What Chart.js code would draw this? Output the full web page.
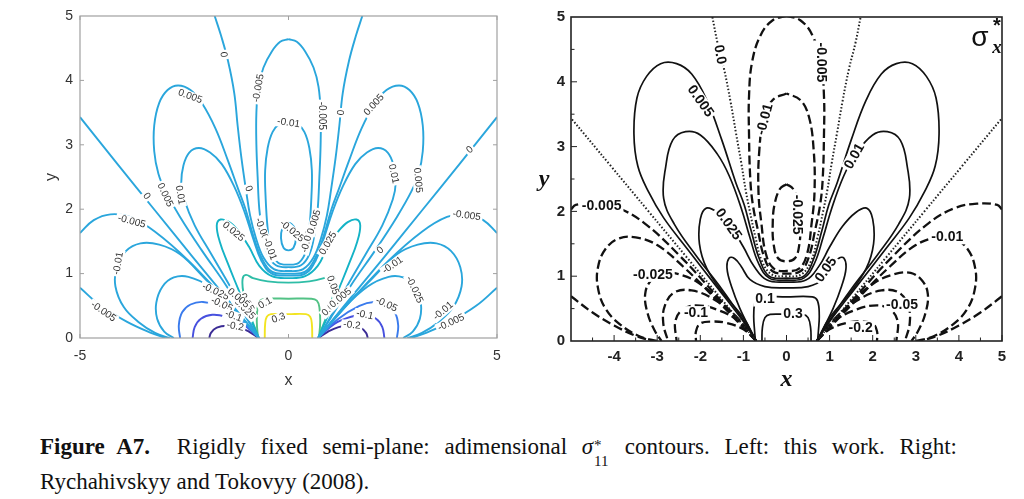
<!DOCTYPE html>
<html>
<head>
<meta charset="utf-8">
<script src="https://cdn.jsdelivr.net/npm/chart.js@4.4.1/dist/chart.umd.min.js"></script>
<style>
  body { margin: 0; background: #fff; width: 1024px; height: 499px; overflow: hidden; position: relative; }
  #leftBox { position: absolute; left: 0; top: 0; width: 520px; height: 400px; }
  #rightBox { position: absolute; left: 520px; top: 0; width: 504px; height: 400px; }
  .cap { position: absolute; left: 40px; font-family: "Liberation Serif", serif; font-size: 23px; line-height: 28px; color: #111; white-space: nowrap; }
  #cap1 { top: 433px; width: 917px; text-align: justify; text-align-last: justify; }
  #cap2 { top: 468px; }
  .ss { display: inline-block; position: relative; width: 17px; height: 10px; }
  .ss .up { position: absolute; left: 1px; top: -13px; font-size: 15px; }
  .ss .dn { position: absolute; left: 1px; top: 3px; font-size: 15px; }
</style>
</head>
<body>
<div id="leftBox"><canvas id="leftChart" width="520" height="400"></canvas></div>
<div id="rightBox"><canvas id="rightChart" width="504" height="400"></canvas></div>
<div class="cap" id="cap1"><b>Figure&ensp;A7.</b><span style="display:inline-block;width:12px"></span> Rigidly fixed semi-plane: adimensional <i>σ</i><span class="ss"><span class="up">*</span><span class="dn">11</span></span> contours. Left: this work. Right:</div>
<div class="cap" id="cap2">Rychahivskyy and Tokovyy (2008).</div>
<script>
// contour halves read for x >= 0; the pictures are symmetric about x = 0

// ---- left panel (this work) ----
const lpZeroDiag = [[0.71, 0], [1.5, 0.63], [2.3, 1.26], [3.2, 1.98], [4.1, 2.7], [5, 3.43]];
const lpZeroCenter = [[0, 1.04], [0.35, 1.07], [0.6, 1.25], [0.78, 1.55], [0.92, 1.9], [1.02, 2.3], [1.13, 2.8], [1.22, 3.3], [1.3, 3.8], [1.45, 4.3], [1.62, 4.7], [1.77, 5.0]];
const lpNeg005Arch = [[0, 1.1], [0.3, 1.13], [0.5, 1.3], [0.62, 1.6], [0.7, 2.0], [0.74, 2.5], [0.77, 3.0], [0.77, 3.5], [0.72, 3.9], [0.6, 4.2], [0.4, 4.45], [0.2, 4.6], [0, 4.64]];
const lpNeg01Arch = [[0, 1.14], [0.25, 1.17], [0.42, 1.35], [0.5, 1.7], [0.55, 2.2], [0.56, 2.6], [0.5, 2.95], [0.38, 3.2], [0.2, 3.33], [0, 3.36]];
const lpNeg025Loop = [[0, 1.36], [0.12, 1.4], [0.18, 1.55], [0.15, 1.7], [0.05, 1.78], [0, 1.79]];
const lpPos005 = [[0, 1.0], [0.4, 1.03], [0.65, 1.25], [0.85, 1.6], [1.03, 2.0], [1.2, 2.3], [1.45, 2.75], [1.75, 3.25], [2.07, 3.64], [2.35, 3.85], [2.65, 3.92], [2.9, 3.85], [3.1, 3.65], [3.22, 3.3], [3.22, 2.9], [3.12, 2.55], [2.95, 2.28], [2.6, 1.88], [2.1, 1.38], [1.5, 0.82], [1.0, 0.3], [0.71, 0]];
const lpPos01 = [[0, 0.97], [0.4, 1.0], [0.65, 1.2], [0.85, 1.55], [1.05, 1.95], [1.3, 2.35], [1.6, 2.7], [1.88, 2.88], [2.15, 2.95], [2.38, 2.88], [2.52, 2.68], [2.57, 2.4], [2.5, 2.15], [2.25, 1.75], [1.85, 1.3], [1.4, 0.8], [1.0, 0.32], [0.71, 0]];
const lpPos025 = [[0, 0.93], [0.4, 0.96], [0.7, 1.12], [0.95, 1.42], [1.2, 1.66], [1.42, 1.8], [1.63, 1.84], [1.72, 1.75], [1.65, 1.5], [1.45, 1.15], [1.2, 0.75], [0.95, 0.35], [0.71, 0]];
const lpPos05 = [[0, 0.86], [0.5, 0.88], [0.85, 0.93], [1.02, 0.98], [1.1, 0.92], [1.08, 0.7], [0.95, 0.4], [0.8, 0.15], [0.72, 0]];
const lpPos1 = [[0, 0.61], [0.55, 0.61], [0.68, 0.58], [0.74, 0.48], [0.76, 0.25], [0.73, 0]];
const lpPos3 = [[0, 0.37], [0.42, 0.37], [0.52, 0.33], [0.56, 0.22], [0.57, 0]];
const lpLow005a = [[0.71, 0], [1.5, 0.58], [2.4, 1.2], [3.2, 1.65], [3.8, 1.88], [4.27, 1.92], [4.67, 1.83], [5.0, 1.63]];
const lpLow005b = [[5.0, 0.78], [4.5, 0.5], [3.87, 0.25], [3.3, 0.08], [2.95, 0]];
const lpLow01 = [[0.71, 0], [1.4, 0.52], [2.0, 0.92], [2.6, 1.3], [3.1, 1.45], [3.55, 1.47], [3.9, 1.35], [4.12, 1.1], [4.15, 0.8], [3.95, 0.48], [3.6, 0.25], [3.2, 0.08], [2.85, 0]];
const lpLow025 = [[0.71, 0], [1.3, 0.45], [1.9, 0.8], [2.4, 0.95], [2.75, 0.94], [3.02, 0.8], [3.17, 0.55], [3.15, 0.3], [2.98, 0.1], [2.75, 0]];
const lpLow05 = [[0.71, 0], [1.2, 0.3], [1.7, 0.5], [2.05, 0.56], [2.35, 0.52], [2.55, 0.4], [2.63, 0.2], [2.6, 0]];
const lpLow1 = [[0.71, 0], [1.1, 0.22], [1.5, 0.33], [1.83, 0.36], [2.1, 0.3], [2.25, 0.17], [2.3, 0]];
const lpLow2 = [[0.72, 0], [0.95, 0.1], [1.2, 0.17], [1.47, 0.19], [1.72, 0.16], [1.86, 0.08], [1.9, 0]];

const lpCurves = [
  [0, lpZeroDiag], [0, lpZeroCenter], [-0.005, lpNeg005Arch], [-0.01, lpNeg01Arch], [-0.025, lpNeg025Loop],
  [0.005, lpPos005], [0.01, lpPos01], [0.025, lpPos025], [0.05, lpPos05], [0.1, lpPos1], [0.3, lpPos3],
  [-0.005, lpLow005a], [-0.005, lpLow005b], [-0.01, lpLow01], [-0.025, lpLow025], [-0.05, lpLow05], [-0.1, lpLow1], [-0.2, lpLow2]
];

// ---- right panel (Rychahivskyy and Tokovyy) ----
const rpZeroDiag = [[0.7, 0], [1.5, 0.64], [2.3, 1.28], [3.2, 2.0], [4.1, 2.72], [5, 3.44]];
const rpZeroCenter = [[0, 1.0], [0.35, 1.03], [0.58, 1.25], [0.72, 1.6], [0.85, 2.0], [0.94, 2.3], [1.05, 2.75], [1.17, 3.2], [1.3, 3.7], [1.45, 4.2], [1.6, 4.6], [1.72, 5.0]];
const rpNeg005Arch = [[0, 1.04], [0.33, 1.08], [0.52, 1.3], [0.66, 1.7], [0.78, 2.1], [0.84, 2.5], [0.87, 3.2], [0.87, 3.77], [0.8, 4.3], [0.6, 4.72], [0.32, 4.95], [0, 5.02]];
const rpNeg01Arch = [[0, 1.08], [0.3, 1.12], [0.48, 1.35], [0.58, 1.8], [0.65, 2.3], [0.63, 2.95], [0.52, 3.46], [0.32, 3.72], [0, 3.82]];
const rpNeg025Loop = [[0, 1.23], [0.2, 1.28], [0.3, 1.5], [0.32, 1.8], [0.28, 2.1], [0.15, 2.35], [0, 2.42]];
const rpPos005 = [[0, 0.97], [0.4, 1.0], [0.62, 1.25], [0.82, 1.7], [0.98, 2.1], [1.18, 2.45], [1.5, 3.1], [1.85, 3.72], [2.2, 4.12], [2.55, 4.28], [2.92, 4.28], [3.25, 4.08], [3.47, 3.75], [3.54, 3.2], [3.45, 2.7], [3.2, 2.3], [2.85, 1.9], [2.3, 1.42], [1.6, 0.82], [1.0, 0.3], [0.7, 0]];
const rpPos01 = [[0, 0.94], [0.4, 0.97], [0.65, 1.2], [0.85, 1.6], [1.05, 2.05], [1.33, 2.55], [1.6, 2.88], [2.0, 3.18], [2.34, 3.23], [2.64, 3.1], [2.8, 2.7], [2.85, 2.2], [2.6, 1.8], [2.1, 1.32], [1.5, 0.8], [1.0, 0.32], [0.7, 0]];
const rpPos025 = [[0, 0.91], [0.45, 0.94], [0.75, 1.15], [1.0, 1.45], [1.3, 1.77], [1.6, 1.98], [1.86, 2.05], [2.0, 1.88], [2.02, 1.5], [1.85, 1.12], [1.45, 0.72], [1.0, 0.36], [0.7, 0]];
const rpPos05 = [[0, 0.82], [0.5, 0.84], [0.85, 0.95], [1.05, 1.15], [1.2, 1.27], [1.33, 1.28], [1.38, 1.12], [1.28, 0.85], [1.08, 0.5], [0.86, 0.2], [0.72, 0]];
const rpPos1 = [[0, 0.68], [0.6, 0.68], [0.72, 0.62], [0.76, 0.4], [0.74, 0.15], [0.72, 0]];
const rpPos3 = [[0, 0.41], [0.38, 0.41], [0.5, 0.36], [0.56, 0.2], [0.57, 0]];
const rpLow005a = [[0.7, 0], [1.6, 0.68], [2.5, 1.33], [3.3, 1.82], [3.9, 2.05], [4.42, 2.12], [4.89, 2.1], [5.0, 2.03]];
const rpLow005b = [[5.0, 0.69], [4.5, 0.44], [4.0, 0.24], [3.5, 0.08], [3.1, 0]];
const rpLow01 = [[0.7, 0], [1.6, 0.62], [2.4, 1.15], [3.0, 1.48], [3.5, 1.6], [3.9, 1.58], [4.2, 1.42], [4.37, 1.15], [4.38, 0.84], [4.2, 0.5], [3.85, 0.25], [3.4, 0.07], [3.0, 0]];
const rpLow025 = [[0.7, 0], [1.4, 0.52], [2.0, 0.88], [2.5, 1.03], [2.88, 1.05], [3.15, 0.93], [3.28, 0.72], [3.22, 0.42], [3.05, 0.15], [2.9, 0]];
const rpLow05 = [[0.7, 0], [1.2, 0.4], [1.7, 0.65], [2.2, 0.78], [2.6, 0.75], [2.82, 0.55], [2.86, 0.28], [2.75, 0]];
const rpLow1 = [[0.7, 0], [1.1, 0.3], [1.6, 0.48], [2.1, 0.55], [2.42, 0.48], [2.58, 0.3], [2.55, 0]];
const rpLow2 = [[0.7, 0], [1.0, 0.18], [1.4, 0.28], [1.75, 0.3], [2.0, 0.27], [2.1, 0.15], [2.1, 0]];

const rpCurves = [
  [0, rpZeroDiag], [0, rpZeroCenter], [-0.005, rpNeg005Arch], [-0.01, rpNeg01Arch], [-0.025, rpNeg025Loop],
  [0.005, rpPos005], [0.01, rpPos01], [0.025, rpPos025], [0.05, rpPos05], [0.1, rpPos1], [0.3, rpPos3],
  [-0.005, rpLow005a], [-0.005, rpLow005b], [-0.01, rpLow01], [-0.025, rpLow025], [-0.05, rpLow05], [-0.1, rpLow1], [-0.2, rpLow2]
];

// contour labels: text, x, y, rotation (deg)
const lpLabels = [
  ["-0.01", 0, 3.34, 8], ["-0.005", 0.8, 3.45, 90], ["0", 1.23, 3.5, 95], ["0.005", 2.05, 3.62, -48],
  ["0.005", 3.1, 2.45, 85], ["0.01", 2.52, 2.55, 78], ["0", 4.35, 2.92, -40], ["-0.005", 4.27, 1.9, 8],
  ["0", 2.2, 1.36, -40], ["-0.01", 2.5, 1.13, -35], ["-0.025", 3.02, 0.75, 65], ["-0.05", 2.35, 0.52, 25],
  ["-0.1", 1.83, 0.36, 12], ["-0.2", 1.52, 0.2, 5], ["-0.01", 3.71, 0.42, -40], ["-0.005", 3.9, 0.24, -25],
  ["0.025", 0.95, 1.47, -60], ["0.05", 1.06, 0.82, 70], ["-0.025", 0.08, 1.66, 40],
  ["-0.01", 0.45, 1.5, -75], ["0.005", 0.62, 1.8, -72], ["0.025", 1.05, 0.5, -45], ["0.005", 1.25, 0.62, -40],
  ["-0.005", -3.76, 1.81, 15], ["-0.01", -4.08, 1.16, -80], ["-0.005", -4.44, 0.41, 35], ["0", -3.4, 2.2, 55],
  ["0.005", -2.96, 2.22, 65], ["0.01", -2.6, 2.22, 80], ["0.005", -2.36, 3.75, 20], ["0", -1.56, 4.4, 85],
  ["-0.005", -0.72, 3.88, -80], ["0.025", -1.32, 1.65, 40], ["-0.025", -1.75, 0.72, 25], ["-0.05", -1.6, 0.52, 25],
  ["-0.1", -1.32, 0.34, 20], ["-0.2", -1.28, 0.18, 10], ["0.1", -0.56, 0.54, -30], ["0.3", -0.24, 0.31, -20],
  ["0.05", -1.0, 0.55, 60], ["0", -0.96, 2.32, 70], ["-0.005", -0.62, 1.65, 70], ["-0.01", -0.45, 1.38, 70],
  ["0.025", -1.05, 0.45, 45], ["0.005", -1.2, 0.62, 40]
];
const rpLabels = [
  ["0.0", -1.55, 4.42, 80], ["0.005", -2.0, 3.7, 55], ["-0.01", -0.5, 3.42, -75], ["-0.005", 0.8, 4.3, 90],
  ["0.01", 1.58, 2.85, -60], ["-0.005", -4.29, 2.08, 0], ["-0.025", -3.1, 1.02, 0], ["-0.1", -2.1, 0.43, 0],
  ["0.1", -0.5, 0.64, 0], ["0.3", 0.15, 0.41, 0], ["0.025", -1.35, 1.8, 55], ["-0.025", 0.25, 1.95, 90],
  ["0.05", 0.92, 1.1, -55], ["-0.2", 1.72, 0.2, 0], ["-0.05", 2.68, 0.56, 0], ["-0.01", 3.73, 1.6, 0]
];

function lpColor(level) {
  if (level <= -0.2) return "#3b2c95";
  if (level <= -0.1) return "#4751df";
  if (level <= -0.05) return "#3a7bed";
  if (level < 0.02) return "#2aa6dc";
  if (level < 0.04) return "#14b3c6";
  if (level < 0.08) return "#2ebda6";
  if (level < 0.2) return "#52c285";
  return "#f2e421";
}

function rpStyle(level) {
  if (level < 0) return { borderColor: "#111", borderWidth: 2.3, borderDash: [9, 4] };
  if (level === 0) return { borderColor: "#222", borderWidth: 2, borderDash: [1.5, 2] };
  return { borderColor: "#111", borderWidth: 1.7, borderDash: [] };
}

function mirrorSets(half, style) {
  const base = { showLine: true, pointRadius: 0, tension: 0.4, fill: false, ...style };
  const right = half.map(([x, y]) => ({ x, y }));
  const left = half.map(([x, y]) => ({ x: -x, y }));
  if (half[0][0] === 0) {
    return [{ ...base, data: left.slice(1).reverse().concat(right) }];
  }
  return [{ ...base, data: right }, { ...base, data: left }];
}

const decorate = {
  id: "decorate",
  afterDatasetsDraw(chart, args, o) {
    const { ctx, chartArea: a, scales: { x, y } } = chart;
    ctx.save();
    ctx.font = o.labelFont;
    ctx.textAlign = "center";
    ctx.textBaseline = "middle";
    o.labels.forEach(([t, lx, ly, r]) => {
      ctx.save();
      ctx.translate(x.getPixelForValue(lx), y.getPixelForValue(ly));
      ctx.rotate(r * Math.PI / 180);
      const w = ctx.measureText(t).width;
      ctx.fillStyle = "#fff";
      ctx.fillRect(-w / 2 - 2, -o.labelH / 2, w + 4, o.labelH);
      ctx.fillStyle = o.labelColor;
      ctx.fillText(t, 0, 0);
      ctx.restore();
    });
    // inward tick marks
    ctx.strokeStyle = o.frameColor;
    ctx.lineWidth = 1;
    o.xTicks.forEach(([v, len]) => {
      const px = x.getPixelForValue(v);
      ctx.beginPath(); ctx.moveTo(px, a.bottom); ctx.lineTo(px, a.bottom - len); ctx.stroke();
      if (o.mirror) { ctx.beginPath(); ctx.moveTo(px, a.top); ctx.lineTo(px, a.top + len); ctx.stroke(); }
    });
    o.yTicks.forEach(([v, len]) => {
      const py = y.getPixelForValue(v);
      ctx.beginPath(); ctx.moveTo(a.left, py); ctx.lineTo(a.left + len, py); ctx.stroke();
      if (o.mirror) { ctx.beginPath(); ctx.moveTo(a.right, py); ctx.lineTo(a.right - len, py); ctx.stroke(); }
    });
    ctx.lineWidth = o.frameWidth;
    ctx.strokeRect(a.left, a.top, a.right - a.left, a.bottom - a.top);
    // free text (canvas coordinates)
    (o.texts || []).forEach(([t, tx, ty, font]) => {
      ctx.font = font;
      ctx.fillStyle = "#111";
      ctx.fillText(t, tx, ty);
    });
    ctx.restore();
  }
};

const lpDatasets = lpCurves.flatMap(([lev, half]) => mirrorSets(half, { borderColor: lpColor(lev), borderWidth: 1.9 }));
const rpDatasets = rpCurves.flatMap(([lev, half]) => mirrorSets(half, rpStyle(lev)));

new Chart(document.getElementById("leftChart"), {
  type: "scatter",
  data: { datasets: lpDatasets },
  plugins: [decorate],
  options: {
    responsive: false,
    animation: false,
    layout: { padding: { left: 0, top: 16, right: 23, bottom: 0 } },
    plugins: {
      legend: { display: false },
      tooltip: { enabled: false },
      decorate: {
        labels: lpLabels, labelFont: "10px 'Liberation Sans'", labelH: 10, labelColor: "#333",
        frameColor: "#a0a0a0", frameWidth: 1.2, mirror: true,
        xTicks: [[-5, 4], [0, 4], [5, 4]],
        yTicks: [[1, 4], [2, 4], [3, 4], [4, 4]]
      }
    },
    scales: {
      x: {
        type: "linear", min: -5, max: 5,
        grid: { display: false, drawTicks: false }, border: { display: false },
        ticks: { stepSize: 5, autoSkip: false, maxRotation: 0, padding: 10, color: "#333", font: { family: "Liberation Sans", size: 14 } },
        title: { display: true, text: "x", color: "#333", font: { family: "Liberation Sans", size: 16 }, padding: { top: 0, bottom: 10 } },
        afterFit(s) { s.height = 62; }
      },
      y: {
        type: "linear", min: 0, max: 5,
        grid: { display: false, drawTicks: false }, border: { display: false },
        ticks: { stepSize: 1, autoSkip: false, padding: 7, color: "#333", font: { family: "Liberation Sans", size: 14 } },
        title: { display: true, text: "y", color: "#333", font: { family: "Liberation Sans", size: 16 }, padding: { top: 42, bottom: 0 } },
        afterFit(s) { s.width = 80; }
      }
    }
  }
});

const rpMinor = [];
for (let v = -4.5; v <= 5; v += 0.5) rpMinor.push([v, Number.isInteger(v) ? 6 : 3.5]);
const rpMinorY = [];
for (let v = 0.5; v < 5; v += 0.5) rpMinorY.push([v, Number.isInteger(v) ? 6 : 3.5]);

new Chart(document.getElementById("rightChart"), {
  type: "scatter",
  data: { datasets: rpDatasets },
  plugins: [decorate],
  options: {
    responsive: false,
    animation: false,
    layout: { padding: { left: 0, top: 17, right: 22, bottom: 0 } },
    plugins: {
      legend: { display: false },
      tooltip: { enabled: false },
      decorate: {
        labels: rpLabels, labelFont: "bold 14px 'Liberation Sans'", labelH: 14, labelColor: "#111",
        frameColor: "#222", frameWidth: 1.6, mirror: false,
        xTicks: rpMinor, yTicks: rpMinorY,
        texts: [
          ["y", 24, 180, "bold italic 24px 'Liberation Serif'"],
          ["σ", 460, 38, "28px 'Liberation Sans'"],
          ["x", 477, 48, "bold italic 19px 'Liberation Serif'"],
          ["*", 477, 26, "bold 20px 'Liberation Sans'"]
        ]
      }
    },
    scales: {
      x: {
        type: "linear", min: -5, max: 5,
        grid: { display: false, drawTicks: false }, border: { display: false },
        ticks: { stepSize: 1, autoSkip: false, maxRotation: 0, padding: 7, color: "#222", font: { family: "Liberation Sans", size: 15, weight: "bold" },
          callback: (v) => (v === -5 ? "" : v) },
        title: { display: true, text: "x", color: "#111", font: { family: "Liberation Serif", size: 24, weight: "bold", style: "italic" }, padding: { top: 0, bottom: 6 } },
        afterFit(s) { s.height = 59; }
      },
      y: {
        type: "linear", min: 0, max: 5,
        grid: { display: false, drawTicks: false }, border: { display: false },
        ticks: { stepSize: 1, autoSkip: false, padding: 6, color: "#222", font: { family: "Liberation Sans", size: 15, weight: "bold" } },
        afterFit(s) { s.width = 51; }
      }
    }
  }
});
</script>
</body>
</html>
